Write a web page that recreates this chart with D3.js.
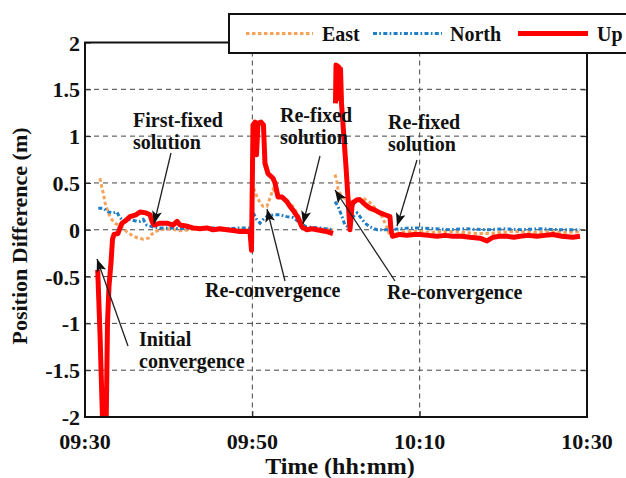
<!DOCTYPE html>
<html>
<head>
<meta charset="utf-8">
<script src="https://cdn.jsdelivr.net/npm/d3@7"></script>
<style>
  html, body { margin: 0; padding: 0; background: #fff; }
  svg { display: block; }
  text { font-family: "Liberation Serif", "Times New Roman", serif; font-weight: bold; fill: #111; }
</style>
</head>
<body>
<svg id="chart" width="626" height="478"></svg>
<script>
// Time axis: minutes after 09:30
const xTickMinutes = [0, 20, 40, 60];
const xTickLabels = ["09:30", "09:50", "10:10", "10:30"];
const yTicks = [-2, -1.5, -1, -0.5, 0, 0.5, 1, 1.5, 2];
const yTickLabels = ["-2", "-1.5", "-1", "-0.5", "0", "0.5", "1", "1.5", "2"];
const seriesNames = ["East", "North", "Up"];

// East component (m); null marks a gap after a re-initialisation
const eastTime = [1.79, 2.00, 2.19, 2.39, 2.78, 3.19, 3.59, 3.98, 4.39, 4.98, 5.77, 6.37, 6.97, 7.57, 7.97, 8.37, 8.96, 10.16, 11.35, 12.55, 13.74, 15.30, 16.73, 18.53, 19.72,
  19.80,
  19.92, 20.08, 20.56, 20.92, 21.27, 21.75, 22.11, 22.47, 22.95, 23.55, 24.14, 24.86, 25.34, 25.70, 26.05, 26.53, 27.49, 28.68, 29.64,
  29.75,
  29.88, 30.12, 30.24, 30.72, 31.43, 31.91, 32.51, 33.23, 34.06, 34.90, 35.50, 35.86, 36.21, 36.45, 36.81, 37.65, 38.84, 40.04, 41.23, 42.43, 43.98, 45.42, 46.85, 48.05, 49.60, 50.79, 51.99, 53.78, 55.93, 57.37, 59.16];
const eastValue = [0.55, 0.46, 0.39, 0.29, 0.18, 0.11, 0.07, 0.05, 0.03, -0.02, -0.07, -0.09, -0.10, -0.09, -0.05, -0.02, 0.00, 0.01, -0.01, 0.00, 0.01, 0.00, -0.01, 0.00, 0.00,
  null,
  0.57, 0.46, 0.35, 0.29, 0.25, 0.25, 0.34, 0.43, 0.39, 0.35, 0.30, 0.25, 0.18, 0.11, 0.05, 0.02, 0.00, 0.01, 0.00,
  null,
  0.59, 0.51, 0.43, 0.35, 0.32, 0.29, 0.32, 0.34, 0.29, 0.21, 0.14, 0.07, 0.00, -0.07, -0.05, -0.03, -0.02, -0.02, -0.03, -0.02, -0.02, -0.03, -0.04, -0.04, -0.03, -0.02, -0.02, -0.03, -0.02, -0.03, -0.02];

// North component (m)
const northTime = [1.59, 2.19, 2.78, 3.38, 3.79, 4.18, 4.58, 5.38, 6.18, 6.57, 6.97, 7.37, 8.16, 8.96, 10.16, 11.35, 12.55, 13.74, 15.30, 16.73, 18.53, 19.72,
  19.80,
  19.92, 20.12, 20.52, 20.92, 21.31, 21.72, 22.51, 23.31, 24.11, 24.90, 25.70, 26.50, 28.09, 29.64,
  29.75,
  29.88, 30.24, 30.72, 31.07, 31.67, 32.03, 32.51, 32.87, 33.47, 34.06, 34.90, 36.09, 37.65, 38.84, 40.04, 41.83, 43.62, 45.42, 48.05, 50.20, 51.99, 54.38, 56.77, 59.16];
const northValue = [0.23, 0.23, 0.19, 0.18, 0.19, 0.13, 0.09, 0.11, 0.09, 0.09, 0.11, 0.05, 0.03, 0.02, 0.02, 0.01, 0.02, 0.02, 0.02, 0.01, 0.02, 0.02,
  null,
  0.29, 0.18, 0.11, 0.07, 0.11, 0.14, 0.16, 0.16, 0.14, 0.13, 0.07, 0.03, 0.02, 0.00,
  null,
  0.30, 0.25, 0.14, 0.05, 0.02, 0.14, 0.18, 0.14, 0.07, 0.03, 0.00, 0.00, 0.01, 0.02, 0.02, 0.01, 0.00, 0.01, 0.00, 0.01, 0.00, 0.01, 0.00, 0.00];

// Up component (m)
const upTime = [1.52, 1.79, 2.15, 2.51, 2.69, 2.87, 3.11, 3.29, 3.47, 3.94, 4.18, 4.42, 4.90, 5.38, 6.10, 6.57, 7.29, 7.77, 8.01, 8.25, 8.96, 9.80, 10.52, 11.00, 11.35, 12.07, 12.91, 13.74, 14.58, 15.30, 16.14, 16.97, 17.93, 18.53, 19.36, 19.72,
  19.90, 20.08, 20.32, 20.50, 20.68, 21.04, 21.33, 21.51, 21.87, 22.47, 22.71, 23.07, 23.55, 24.14, 24.50, 24.86, 25.46, 25.94, 26.53, 27.13, 27.73, 28.33, 28.92, 29.64,
  29.80,
  29.94, 30.00, 30.30, 30.36, 30.54, 30.66, 31.19, 31.67, 31.91, 32.03, 32.51, 32.87, 33.47, 34.06, 34.66, 35.26, 35.86, 36.45, 36.57, 36.75, 37.65, 38.48, 39.32, 40.04, 41.00, 42.07, 43.03, 43.98, 45.06, 46.01, 47.21, 48.05, 48.76, 49.60, 50.44, 51.27, 51.99, 52.95, 54.02, 54.98, 55.93, 57.01, 58.32, 59.16];
const upValue = [-0.43, -1.10, -2.20, -2.20, -1.00, -0.60, -0.35, -0.10, -0.05, -0.04, 0.02, 0.07, 0.10, 0.14, 0.16, 0.19, 0.18, 0.16, 0.09, 0.05, 0.07, 0.07, 0.05, 0.09, 0.05, 0.04, 0.02, 0.01, 0.02, 0.00, 0.01, 0.00, -0.01, -0.02, -0.02, -0.02,
  -0.22, 1.12, 1.15, 0.80, 1.14, 1.15, 1.12, 0.71, 0.60, 0.55, 0.50, 0.35, 0.35, 0.30, 0.25, 0.21, 0.13, 0.03, 0.00, 0.01, 0.00, -0.01, -0.02, -0.04,
  null,
  1.35, 1.76, 1.74, 1.40, 1.72, 1.35, 0.68, 0.00, 0.25, 0.29, 0.32, 0.32, 0.27, 0.23, 0.21, 0.18, 0.16, 0.14, 0.00, -0.07, -0.05, -0.06, -0.05, -0.05, -0.06, -0.07, -0.06, -0.07, -0.07, -0.08, -0.09, -0.12, -0.08, -0.07, -0.07, -0.08, -0.07, -0.06, -0.07, -0.06, -0.05, -0.07, -0.08, -0.07];

const eastColor = "#F6A35A", northColor = "#1F7EC6", upColor = "#FF0000";

const svg = d3.select("#chart");
const plot = { left: 85, right: 587, top: 42.5, bottom: 417 };

const x = d3.scaleLinear().domain([0, 60]).range([plot.left, plot.right]);
const y = d3.scaleLinear().domain([-2, 2]).range([plot.bottom, plot.top]);

svg.append("defs").append("clipPath").attr("id", "plotClip")
  .append("rect")
  .attr("x", plot.left).attr("y", plot.top)
  .attr("width", plot.right - plot.left).attr("height", plot.bottom - plot.top);

// Dashed grid
const grid = svg.append("g").attr("stroke", "#444").attr("stroke-width", 1).attr("stroke-dasharray", "5,4");
yTicks.filter(v => v > -2 && v < 2).forEach(v => {
  grid.append("line").attr("x1", plot.left).attr("x2", plot.right).attr("y1", y(v)).attr("y2", y(v));
});
xTickMinutes.filter(m => m > 0 && m < 60).forEach(m => {
  grid.append("line").attr("y1", plot.top).attr("y2", plot.bottom).attr("x1", x(m)).attr("x2", x(m));
});

// Axes with inward ticks
const yAxisL = d3.axisLeft(y).tickValues(yTicks).tickSizeInner(-6).tickSizeOuter(0).tickFormat("");
const yAxisR = d3.axisRight(y).tickValues(yTicks).tickSizeInner(-6).tickSizeOuter(0).tickFormat("");
const xAxisB = d3.axisBottom(x).tickValues(xTickMinutes).tickSizeInner(-6).tickSizeOuter(0).tickFormat("");
const xAxisT = d3.axisTop(x).tickValues(xTickMinutes).tickSizeInner(-6).tickSizeOuter(0).tickFormat("");
[[yAxisL, `translate(${plot.left},0)`], [yAxisR, `translate(${plot.right},0)`],
 [xAxisB, `translate(0,${plot.bottom})`], [xAxisT, `translate(0,${plot.top})`]].forEach(([ax, tr]) => {
  const g = svg.append("g").attr("transform", tr).call(ax);
  g.select(".domain").remove();
  g.selectAll("line").attr("stroke", "#222").attr("stroke-width", 1);
});

// Tick labels
svg.append("g").selectAll("text").data(yTicks).join("text")
  .attr("x", 80).attr("y", d => y(d) + 8)
  .attr("text-anchor", "end").attr("font-size", 22)
  .text((d, i) => yTickLabels[i]);
svg.append("g").selectAll("text").data(xTickMinutes).join("text")
  .attr("x", d => x(d)).attr("y", 448.5)
  .attr("text-anchor", "middle").attr("font-size", 22)
  .text((d, i) => xTickLabels[i]);

// Axis titles
svg.append("text").attr("x", 340).attr("y", 474).attr("text-anchor", "middle")
  .attr("font-size", 24).text("Time (hh:mm)");
svg.append("text").attr("transform", "translate(27,236) rotate(-90)")
  .attr("text-anchor", "middle").attr("font-size", 22).text("Position Difference (m)");

// Series
const zip = (ts, vs) => ts.map((t, i) => ({ t, v: vs[i] }));
const line = d3.line().defined(d => d.v !== null).x(d => x(d.t)).y(d => y(d.v));
const lines = svg.append("g").attr("clip-path", "url(#plotClip)").attr("fill", "none");
lines.append("path").datum(zip(eastTime, eastValue)).attr("d", line)
  .attr("stroke", eastColor).attr("stroke-width", 3).attr("stroke-dasharray", "3.5,2.5");
lines.append("path").datum(zip(northTime, northValue)).attr("d", line)
  .attr("stroke", northColor).attr("stroke-width", 3).attr("stroke-dasharray", "4,2.3,1.7,2.3");
lines.append("path").datum(zip(upTime, upValue)).attr("d", line)
  .attr("stroke", upColor).attr("stroke-width", 5).attr("stroke-linejoin", "round");

// Plot frame
svg.append("rect").attr("x", plot.left).attr("y", plot.top)
  .attr("width", plot.right - plot.left).attr("height", plot.bottom - plot.top)
  .attr("fill", "none").attr("stroke", "#111").attr("stroke-width", 2);

// Annotations
svg.select("defs").append("marker").attr("id", "arrowHead")
  .attr("markerUnits", "userSpaceOnUse").attr("markerWidth", 14).attr("markerHeight", 12)
  .attr("refX", 13).attr("refY", 5).attr("orient", "auto")
  .append("path").attr("d", "M0,0 L13,5 L0,10 L3,5 Z").attr("fill", "#111");

const notes = [
  { lines: ["First-fixed", "solution"], x: 133, y: 127, from: [171, 153], to: [154, 224] },
  { lines: ["Initial", "convergence"], x: 139, y: 346, from: [128, 346], to: [97, 259] },
  { lines: ["Re-fixed", "solution"], x: 280, y: 122, from: [320, 156], to: [303, 224] },
  { lines: ["Re-fixed", "solution"], x: 388, y: 129, from: [417, 160], to: [397, 226] },
  { lines: ["Re-convergence"], x: 205, y: 297, from: [285, 281], to: [267, 209] },
  { lines: ["Re-convergence"], x: 387, y: 299, from: [395, 281], to: [335, 190] }
];
const ann = svg.append("g");
notes.forEach(n => {
  ann.append("line").attr("x1", n.from[0]).attr("y1", n.from[1]).attr("x2", n.to[0]).attr("y2", n.to[1])
    .attr("stroke", "#222").attr("stroke-width", 1.3).attr("marker-end", "url(#arrowHead)");
  const t = ann.append("text").attr("x", n.x).attr("y", n.y).attr("font-size", 20);
  n.lines.forEach((s, i) => t.append("tspan").attr("x", n.x).attr("dy", i === 0 ? 0 : 21.5).text(s));
});

// Legend
const legend = svg.append("g");
legend.append("rect").attr("x", 229).attr("y", 14).attr("width", 420).attr("height", 39)
  .attr("fill", "#fff").attr("stroke", "#111").attr("stroke-width", 2);
const legendItems = [
  { name: seriesNames[0], color: eastColor, width: 3, dash: "3.5,2.5", x1: 246, x2: 313, tx: 322 },
  { name: seriesNames[1], color: northColor, width: 3, dash: "4,2.3,1.7,2.3", x1: 373, x2: 442, tx: 450 },
  { name: seriesNames[2], color: upColor, width: 5, dash: null, x1: 518, x2: 588, tx: 597 }
];
legendItems.forEach(it => {
  legend.append("line").attr("x1", it.x1).attr("x2", it.x2).attr("y1", 33.5).attr("y2", 33.5)
    .attr("stroke", it.color).attr("stroke-width", it.width).attr("stroke-dasharray", it.dash);
  legend.append("text").attr("x", it.tx).attr("y", 41).attr("font-size", 20).text(it.name);
});
</script>
</body>
</html>
